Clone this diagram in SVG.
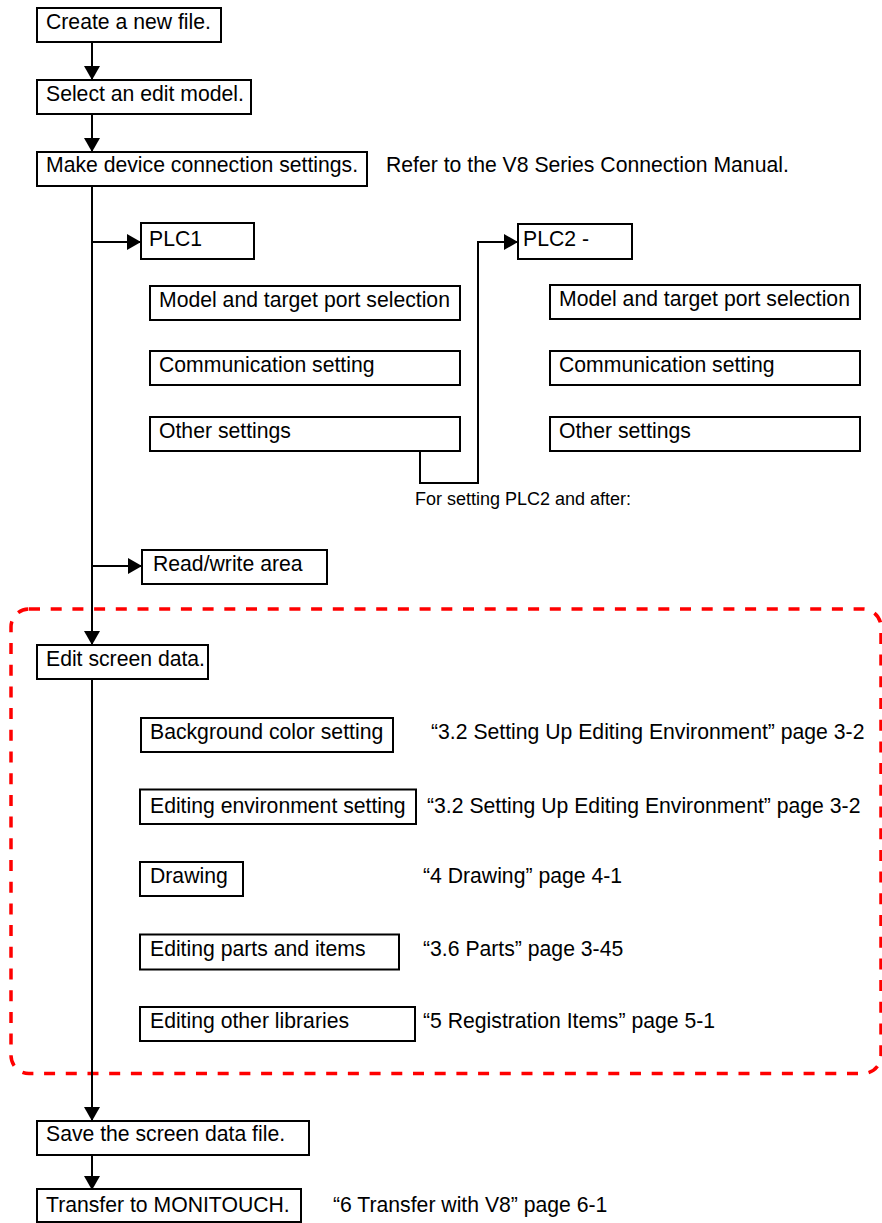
<svg xmlns="http://www.w3.org/2000/svg" width="882" height="1223" viewBox="0 0 882 1223">
<style>
.box{fill:#fff;stroke:#000;stroke-width:2}
.t{font-family:"Liberation Sans",Arial,sans-serif;font-size:21.2px;fill:#000}
.s{font-family:"Liberation Sans",Arial,sans-serif;font-size:18px;fill:#000}
.c{fill:none;stroke:#000;stroke-width:2}
.frame{fill:none;stroke:#ff0000;stroke-width:3.5;stroke-dasharray:11 10.7}
</style>
<defs>
<marker id="ah" markerUnits="userSpaceOnUse" markerWidth="14" markerHeight="16" refX="14" refY="8" orient="auto">
<path d="M0,0 L14,8 L0,16 Z" fill="#000"/>
</marker>
</defs>
<rect class="frame" x="11" y="609" width="870" height="464.5" rx="18" ry="18"/>
<g id="connectors">
<path class="c" d="M92,42 V80" marker-end="url(#ah)"/>
<path class="c" d="M92,114 V152" marker-end="url(#ah)"/>
<path class="c" d="M92,186 V645" marker-end="url(#ah)"/>
<path class="c" d="M92,242 H141" marker-end="url(#ah)"/>
<path class="c" d="M92,566 H142" marker-end="url(#ah)"/>
<path class="c" d="M92,679 V1121" marker-end="url(#ah)"/>
<path class="c" d="M92,1155 V1190" marker-end="url(#ah)"/>
<path class="c" d="M420,451 V483 H478 V242 H518" marker-end="url(#ah)"/>
</g>
<g id="n-create"><rect class="box" x="37" y="8" width="184" height="34"/><text class="t" x="46" y="28.5">Create a new file.</text></g>
<g id="n-select"><rect class="box" x="37" y="80" width="214" height="34"/><text class="t" x="46" y="100.5">Select an edit model.</text></g>
<g id="n-device"><rect class="box" x="37" y="152" width="330" height="34"/><text class="t" x="46" y="172">Make device connection settings.</text></g>
<text class="t" x="386" y="172">Refer to the V8 Series Connection Manual.</text>
<g id="n-plc1"><rect class="box" x="141" y="223" width="113" height="36"/><text class="t" x="149" y="246">PLC1</text></g>
<g id="n-model1"><rect class="box" x="150" y="286" width="310" height="34"/><text class="t" x="159" y="307">Model and target port selection</text></g>
<g id="n-comm1"><rect class="box" x="150" y="351" width="310" height="34"/><text class="t" x="159" y="372">Communication setting</text></g>
<g id="n-other1"><rect class="box" x="150" y="417" width="310" height="34"/><text class="t" x="159" y="437.5">Other settings</text></g>
<g id="n-plc2"><rect class="box" x="518" y="224" width="114" height="35"/><text class="t" x="523" y="246">PLC2 -</text></g>
<g id="n-model2"><rect class="box" x="550" y="285" width="310" height="34"/><text class="t" x="559" y="306">Model and target port selection</text></g>
<g id="n-comm2"><rect class="box" x="550" y="351" width="310" height="34"/><text class="t" x="559" y="372">Communication setting</text></g>
<g id="n-other2"><rect class="box" x="550" y="417" width="310" height="34"/><text class="t" x="559" y="437.5">Other settings</text></g>
<text class="s" x="415" y="505">For setting PLC2 and after:</text>
<g id="n-rw"><rect class="box" x="142" y="550" width="185" height="34"/><text class="t" x="153" y="571">Read/write area</text></g>
<g id="n-edit"><rect class="box" x="37" y="645" width="171" height="34"/><text class="t" x="46" y="666">Edit screen data.</text></g>
<g id="n-bg"><rect class="box" x="141" y="718" width="252" height="34"/><text class="t" x="150" y="738.5">Background color setting</text></g>
<text class="t" x="431" y="738.5">“3.2 Setting Up Editing Environment” page 3-2</text>
<g id="n-env"><rect class="box" x="140" y="789.5" width="276" height="34.5"/><text class="t" x="150" y="813">Editing environment setting</text></g>
<text class="t" x="427" y="813">“3.2 Setting Up Editing Environment” page 3-2</text>
<g id="n-draw"><rect class="box" x="140" y="862" width="103" height="34"/><text class="t" x="150" y="883">Drawing</text></g>
<text class="t" x="423" y="883">“4 Drawing” page 4-1</text>
<g id="n-parts"><rect class="box" x="140" y="934.5" width="259" height="35"/><text class="t" x="150" y="956">Editing parts and items</text></g>
<text class="t" x="423" y="956">“3.6 Parts” page 3-45</text>
<g id="n-lib"><rect class="box" x="140" y="1007" width="275" height="34"/><text class="t" x="150" y="1028">Editing other libraries</text></g>
<text class="t" x="423" y="1028">“5 Registration Items” page 5-1</text>
<g id="n-save"><rect class="box" x="37" y="1121" width="272" height="34"/><text class="t" x="46" y="1141">Save the screen data file.</text></g>
<g id="n-transfer"><rect class="box" x="37" y="1189" width="264" height="33"/><text class="t" x="46" y="1212">Transfer to MONITOUCH.</text></g>
<text class="t" x="333" y="1212">“6 Transfer with V8” page 6-1</text>
</svg>
